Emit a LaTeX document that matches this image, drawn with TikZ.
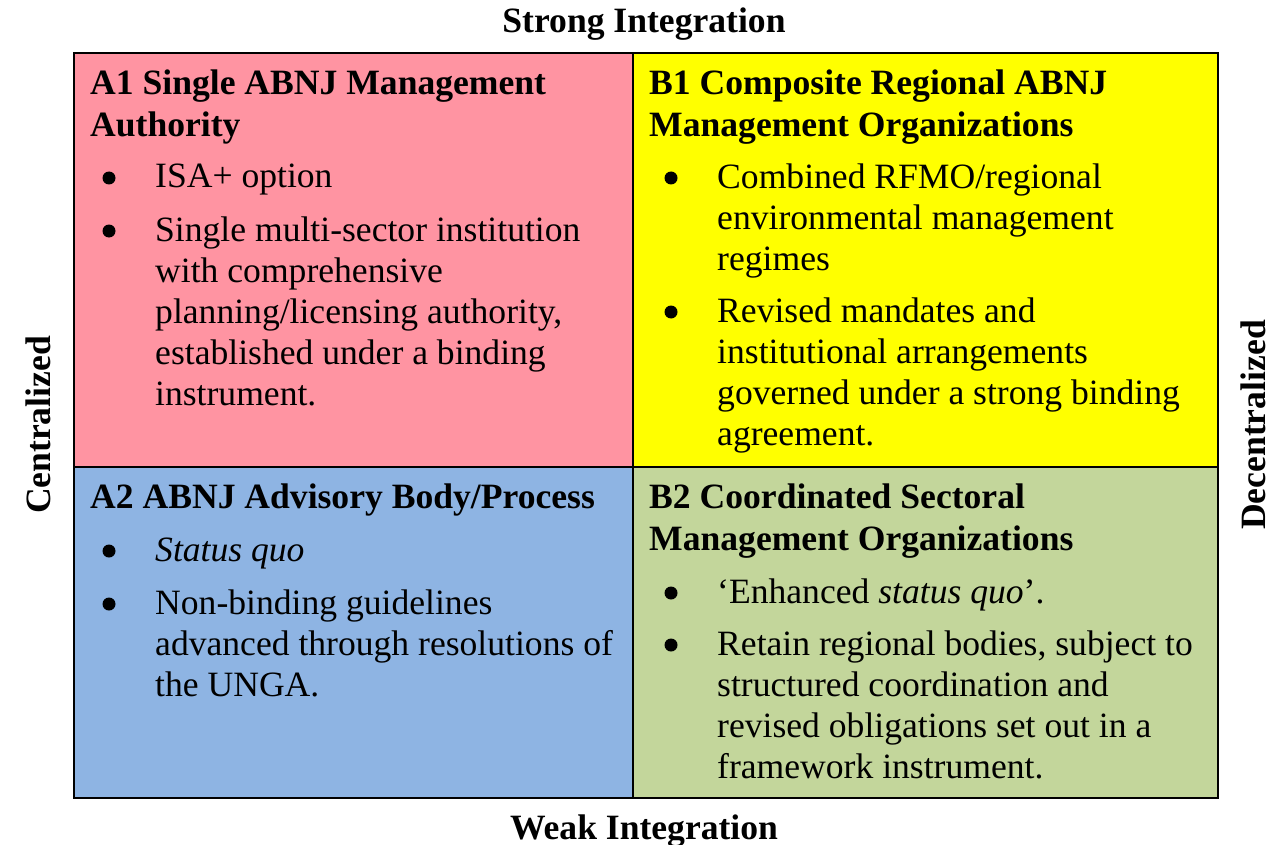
\documentclass[tikz,border=0pt]{standalone}
\usepackage{fontspec}
\setmainfont{Liberation Serif}
\definecolor{cellpink}{RGB}{255,148,162}
\definecolor{cellyellow}{RGB}{255,255,0}
\definecolor{cellblue}{RGB}{142,180,227}
\definecolor{cellgreen}{RGB}{195,214,155}
\tikzset{
  cell/.style={draw, line width=1.6pt, anchor=north west, inner sep=0pt},
  head/.style={anchor=base west, inner sep=0pt, align=left, font=\bfseries\fontsize{35.6}{42}\selectfont},
  entry/.style={anchor=base west, inner sep=0pt, align=left, font=\fontsize{35.6}{41}\selectfont},
  dot/.style={circle, fill=black, minimum size=13pt, inner sep=0pt},
  axis/.style={anchor=base, inner sep=0pt, font=\bfseries\fontsize{35.6}{41}\selectfont}
}
\begin{document}
\begin{tikzpicture}[x=1pt,y=-1pt]
        \useasboundingbox (0,0) rectangle (1273,845);
        \node[cell, fill=cellpink, minimum width=559pt, minimum height=414pt] (a1) at (73,52) {};
        \node[cell, fill=cellyellow, minimum width=585pt, minimum height=414pt] (b1) at (632,52) {};
        \node[cell, fill=cellblue, minimum width=559pt, minimum height=331pt] (a2) at (73,466) {};
        \node[cell, fill=cellgreen, minimum width=585pt, minimum height=331pt] (b2) at (632,466) {};
        \node[axis] (strong) at (644,33) {Strong Integration};
        \node[axis] (weak) at (644,839) {Weak Integration};
        \node[axis, rotate=90] (central) at (50,425) {Centralized};
        \node[axis, rotate=90] (decentral) at (1265,425) {Decentralized};
        % A1 (node base = last line)
        \node[head] (a1head) at (90,137) {A1 Single ABNJ Management\\Authority};
        \node[dot] (a1dotone) at (109,178) {};
        \node[entry] (a1one) at (155,188) {ISA+ option};
        \node[dot] (a1dottwo) at (109,231) {};
        \node[entry] (a1two) at (155,405) {Single multi-sector institution\\with comprehensive\\planning/licensing authority,\\established under a binding\\instrument.};
        % B1
        \node[head] (b1head) at (649,137) {B1 Composite Regional ABNJ\\Management Organizations};
        \node[dot] (b1dotone) at (671,178) {};
        \node[entry] (b1one) at (717,270) {Combined RFMO/regional\\environmental management\\regimes};
        \node[dot] (b1dottwo) at (671,312) {};
        \node[entry] (b1two) at (717,445) {Revised mandates and\\institutional arrangements\\governed under a strong binding\\agreement.};
        % A2
        \node[head] (a2head) at (90,508) {A2 ABNJ Advisory Body/Process};
        \node[dot] (a2dotone) at (109,551) {};
        \node[entry] (a2one) at (155,561) {\textit{Status quo}};
        \node[dot] (a2dottwo) at (109,604) {};
        \node[entry] (a2two) at (155,696) {Non-binding guidelines\\advanced through resolutions of\\the UNGA.};
        % B2
        \node[head] (b2head) at (649,550) {B2 Coordinated Sectoral\\Management Organizations};
        \node[dot] (b2dotone) at (671,593) {};
        \node[entry] (b2one) at (717,603) {‘Enhanced \textit{status quo}’.};
        \node[dot] (b2dottwo) at (671,645) {};
        \node[entry] (b2two) at (717,778) {Retain regional bodies, subject to\\structured coordination and\\revised obligations set out in a\\framework instrument.};
    \end{tikzpicture}
\end{document}
